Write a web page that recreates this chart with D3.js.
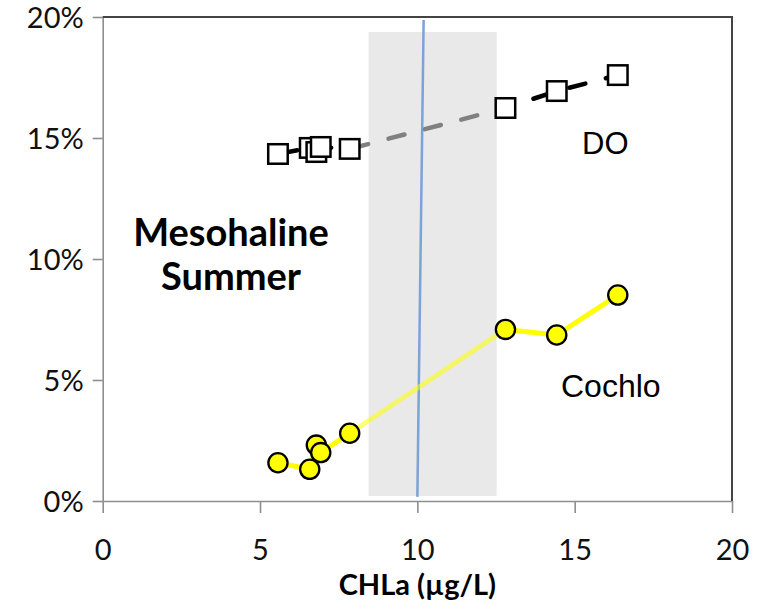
<!DOCTYPE html>
<html><head><meta charset="utf-8">
<script src="https://cdn.jsdelivr.net/npm/d3@7"></script>
<style>
  body { margin: 0; background: #fff; }
  text { font-family: Lato, "Open Sans", sans-serif; }
</style>
</head><body>
<svg id="chart" width="762" height="610"></svg>
<script>
// Chlorophyll-a concentration (µg/L) for each station
const chla = [5.57, 6.58, 6.79, 6.93, 7.85, 12.8, 14.43, 16.37];
// Share of dissolved-oxygen related signal
const doShare = [0.1434, 0.1459, 0.1442, 0.1463, 0.1455, 0.1624, 0.1694, 0.1760];
// Share of Cochlodinium
const cochloShare = [0.0158, 0.0131, 0.0231, 0.0200, 0.0280, 0.0709, 0.0686, 0.0851];

const xTicks = [0, 5, 10, 15, 20];
const yTicks = [0, 0.05, 0.10, 0.15, 0.20];

// Shaded CHLa range and threshold line
const bandChla = [8.45, 12.52];
const bandShare = [0.0021, 0.1938];
const thresholdChla = [10.0, 10.2];
const thresholdShare = [0.0017, 0.1988];

// segment between these two stations is drawn faded
const fadedSegment = 4;

const svg = d3.select("#chart");
const plotLeft = 102.7, plotRight = 732, plotTop = 17, plotBottom = 501;

const x = d3.scaleLinear().domain([0, 20]).range([plotLeft, plotRight]);
const y = d3.scaleLinear().domain([0, 0.20]).range([plotBottom, plotTop]);

// shaded band
svg.append("rect")
  .attr("x", x(bandChla[0])).attr("y", y(bandShare[1]))
  .attr("width", x(bandChla[1]) - x(bandChla[0]))
  .attr("height", y(bandShare[0]) - y(bandShare[1]))
  .attr("fill", "#e9e9e9");

// axes
const axisColor = "#8e8e8e";
const gx = svg.append("g").attr("transform", `translate(0,${plotBottom})`)
  .call(d3.axisBottom(x).tickValues(xTicks).tickSize(12).tickSizeOuter(0).tickPadding(26));
const gy = svg.append("g").attr("transform", `translate(${plotLeft},0)`)
  .call(d3.axisLeft(y).tickValues(yTicks).tickFormat(d3.format(".0%")).tickSize(10).tickSizeOuter(0).tickPadding(9));
[gx, gy].forEach(g => {
  g.selectAll("path.domain").attr("stroke", axisColor).attr("stroke-width", 1.6);
  g.selectAll(".tick line").attr("stroke", axisColor).attr("stroke-width", 1.6);
  g.selectAll(".tick text").attr("fill", "#111").style("font-size", "29px").style("font-family", "Lato, sans-serif");
});
gy.selectAll(".tick text").attr("dy", "0.36em");
gx.selectAll(".tick text").attr("dy", "0.71em");

// frame on top and right
svg.append("path")
  .attr("d", `M${plotLeft},${plotTop}H${plotRight}V${plotBottom}`)
  .attr("fill", "none").attr("stroke", "#444").attr("stroke-width", 2);

// threshold line
svg.append("line")
  .attr("x1", x(thresholdChla[0])).attr("y1", y(thresholdShare[0]))
  .attr("x2", x(thresholdChla[1])).attr("y2", y(thresholdShare[1]))
  .attr("stroke", "#7ba3d8").attr("stroke-width", 2.5);

// point arrays in pixels
const doPts = chla.map((c, i) => [x(c), y(doShare[i])]);
const coPts = chla.map((c, i) => [x(c), y(cochloShare[i])]);

// Cochlo line, segment by segment
for (let i = 0; i < coPts.length - 1; i++) {
  svg.append("line")
    .attr("x1", coPts[i][0]).attr("y1", coPts[i][1])
    .attr("x2", coPts[i + 1][0]).attr("y2", coPts[i + 1][1])
    .attr("stroke", "#ffff00").attr("stroke-width", 5)
    .attr("stroke-opacity", i === fadedSegment ? 0.55 : 1);
}

// DO line: dashed with a continuous pattern across segments
let cum = 0;
for (let i = 0; i < doPts.length - 1; i++) {
  const [x1, y1] = doPts[i], [x2, y2] = doPts[i + 1];
  const len = Math.hypot(x2 - x1, y2 - y1);
  svg.append("line")
    .attr("x1", x1).attr("y1", y1).attr("x2", x2).attr("y2", y2)
    .attr("stroke", i === fadedSegment ? "#808080" : "#000")
    .attr("stroke-width", 4.5)
    .attr("stroke-linecap", "round")
    .attr("stroke-dasharray", "16.5,21.1")
    .attr("stroke-dashoffset", cum - 3.2);
  cum += len;
}

// Cochlo markers
svg.append("g").selectAll("circle").data(coPts).join("circle")
  .attr("cx", d => d[0]).attr("cy", d => d[1]).attr("r", 9.6)
  .attr("fill", "#ffff00").attr("stroke", "#000").attr("stroke-width", 2.3);

// DO markers
const sq = 19.5;
svg.append("g").selectAll("rect").data(doPts).join("rect")
  .attr("x", d => d[0] - sq / 2).attr("y", d => d[1] - sq / 2)
  .attr("width", sq).attr("height", sq)
  .attr("fill", "#fff").attr("stroke", "#000").attr("stroke-width", 2.5);

// labels
svg.append("text").attr("x", 582).attr("y", 154).text("DO")
  .style("font-family", "'Liberation Sans', Arial, sans-serif").style("font-size", "31px");
svg.append("text").attr("x", 561).attr("y", 397).text("Cochlo")
  .style("font-family", "'Liberation Sans', Arial, sans-serif").style("font-size", "32px");

const title = svg.append("text").attr("text-anchor", "middle")
  .style("font-weight", "bold").style("font-size", "38px");
title.append("tspan").attr("x", 231).attr("y", 246).text("Mesohaline");
title.append("tspan").attr("x", 231).attr("y", 290).text("Summer");

svg.append("text").attr("x", (plotLeft + plotRight) / 2).attr("y", 595)
  .attr("text-anchor", "middle").style("font-weight", "bold").style("font-size", "29px")
  .text("CHLa (µg/L)");
</script>
</body></html>
